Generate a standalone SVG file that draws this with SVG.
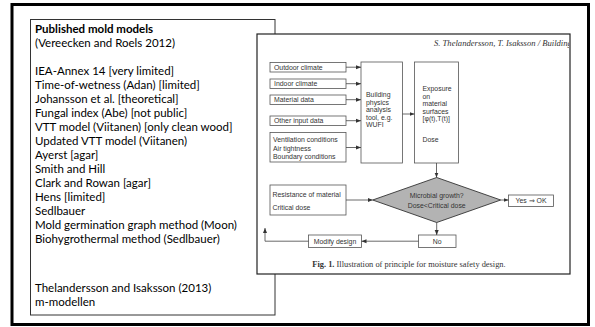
<svg xmlns="http://www.w3.org/2000/svg" width="595" height="327" viewBox="0 0 595 327">
<style>
.lt{font-family:Lato,"Open Sans","Liberation Sans",sans-serif;font-size:11.5px;fill:#000}
.ltb{font-family:Lato,"Open Sans","Liberation Sans",sans-serif;font-size:11.5px;font-weight:bold;fill:#000}
.box{fill:#fff;stroke:#555;stroke-width:0.8}
.ft{font-family:"Liberation Sans",Arial,sans-serif;font-size:6.9px;fill:#333}
.cn{fill:none;stroke:#444;stroke-width:0.8}
.cap{font-family:"Liberation Serif","Times New Roman",serif;font-size:8.4px;fill:#333}
</style>
<defs>
<marker id="ah" markerWidth="6" markerHeight="6" refX="5" refY="3" orient="auto" markerUnits="userSpaceOnUse">
<path d="M0,1 L5,3 L0,5 Z" fill="#333"/>
</marker>
<clipPath id="imgclip"><rect x="257" y="34" width="312" height="240"/></clipPath>
</defs>
<rect width="595" height="327" fill="#fff"/>
<rect x="12" y="4.5" width="576.5" height="320" fill="none" stroke="#000" stroke-width="3"/>

<g id="textbox">
<rect x="30.5" y="19.5" width="244.5" height="295.5" fill="#fff" stroke="#333" stroke-width="1"/>
<text class="ltb" x="35" y="33">Published mold models</text>
<text class="lt" x="35" y="47">(Vereecken and Roels 2012)</text>
<text class="lt" x="35" y="75">IEA-Annex 14 [very limited]</text>
<text class="lt" x="35" y="89">Time-of-wetness (Adan) [limited]</text>
<text class="lt" x="35" y="103">Johansson et al. [theoretical]</text>
<text class="lt" x="35" y="117">Fungal index (Abe) [not public]</text>
<text class="lt" x="35" y="131">VTT model (Viitanen) [only clean wood]</text>
<text class="lt" x="35" y="145">Updated VTT model (Viitanen)</text>
<text class="lt" x="35" y="159">Ayerst [agar]</text>
<text class="lt" x="35" y="173">Smith and Hill</text>
<text class="lt" x="35" y="187">Clark and Rowan [agar]</text>
<text class="lt" x="35" y="201">Hens [limited]</text>
<text class="lt" x="35" y="215">Sedlbauer</text>
<text class="lt" x="35" y="229">Mold germination graph method (Moon)</text>
<text class="lt" x="35" y="243">Biohygrothermal method (Sedlbauer)</text>
<text class="lt" x="35" y="292">Thelandersson and Isaksson (2013)</text>
<text class="lt" x="35" y="306">m-modellen</text>
</g>

<g id="figure">
<rect x="257" y="34" width="313" height="240" fill="#fff" stroke="#222" stroke-width="1.2"/>
<g clip-path="url(#imgclip)">
<text x="434" y="46" font-family="Liberation Serif,serif" font-style="italic" font-size="8.6" fill="#333">S. Thelandersson, T. Isaksson / Building</text>
</g>
<text class="cap" x="409" y="267" text-anchor="middle"><tspan font-weight="bold">Fig. 1.</tspan> Illustration of principle for moisture safety design.</text>
</g>

<g id="n-outdoor"><rect class="box" x="270" y="62.5" width="76" height="9.5"/><text class="ft" x="274" y="69.7">Outdoor climate</text></g>
<g id="n-indoor"><rect class="box" x="270" y="79" width="76" height="9.5"/><text class="ft" x="274" y="86.2">Indoor climate</text></g>
<g id="n-material"><rect class="box" x="270" y="95" width="76" height="9.5"/><text class="ft" x="274" y="102.2">Material data</text></g>
<g id="n-other"><rect class="box" x="270" y="116" width="76" height="9.5"/><text class="ft" x="274" y="123.2">Other input data</text></g>
<g id="n-vent"><rect class="box" x="270" y="132.5" width="76" height="29.5"/>
<text class="ft" x="273" y="142">Ventilation conditions</text><text class="ft" x="273" y="150.5">Air tightness</text><text class="ft" x="273" y="159">Boundary conditions</text></g>
<g id="n-bpa"><rect class="box" x="361" y="62" width="41.5" height="101"/>
<text class="ft" x="366" y="97">Building</text><text class="ft" x="366" y="104.5">physics</text><text class="ft" x="366" y="112">analysis</text><text class="ft" x="366" y="119.5">tool, e.g.</text><text class="ft" x="366" y="127">WUFI</text></g>
<g id="n-exposure"><rect class="box" x="414.5" y="62" width="44" height="101"/>
<text class="ft" x="422.5" y="91">Exposure</text><text class="ft" x="422.5" y="98.5">on</text><text class="ft" x="422.5" y="106">material</text><text class="ft" x="422.5" y="113.5">surfaces</text><text class="ft" x="422.5" y="121">[φ(t),T(t)]</text><text class="ft" x="422.5" y="142">Dose</text></g>
<g id="n-resist"><rect class="box" x="270" y="185" width="76" height="30"/>
<text class="ft" x="272.5" y="196.5">Resistance of material</text><text class="ft" x="272.5" y="209.5">Critical dose</text></g>
<g id="n-diamond"><path d="M436.7,177.5 L500.7,200 L436.7,222.5 L372.7,200 Z" fill="#b3b3b3" stroke="#333" stroke-width="0.9"/>
<text class="ft" x="436.7" y="198" text-anchor="middle">Microbial growth?</text><text class="ft" x="436.7" y="207.5" text-anchor="middle">Dose&lt;Critical dose</text></g>
<g id="n-yes"><rect class="box" x="508.5" y="195" width="45" height="11.5"/><text class="ft" x="531" y="203" text-anchor="middle">Yes ⇒ OK</text></g>
<g id="n-no"><rect class="box" x="418.5" y="235" width="37.5" height="12.5"/><text class="ft" x="437.2" y="243.5" text-anchor="middle">No</text></g>
<g id="n-modify"><rect class="box" x="308.5" y="235" width="53" height="12.5"/><text class="ft" x="335" y="243.5" text-anchor="middle">Modify design</text></g>

<g id="connectors">
<line class="cn" x1="346" y1="67.2" x2="361" y2="67.2" marker-end="url(#ah)"/>
<line class="cn" x1="346" y1="83.7" x2="361" y2="83.7" marker-end="url(#ah)"/>
<line class="cn" x1="346" y1="99.7" x2="361" y2="99.7" marker-end="url(#ah)"/>
<line class="cn" x1="346" y1="120.7" x2="361" y2="120.7" marker-end="url(#ah)"/>
<line class="cn" x1="346" y1="147.5" x2="361" y2="147.5" marker-end="url(#ah)"/>
<line class="cn" x1="402.5" y1="114" x2="414.5" y2="114" marker-end="url(#ah)"/>
<line class="cn" x1="436.5" y1="163" x2="436.5" y2="177.5" marker-end="url(#ah)"/>
<line class="cn" x1="346" y1="200" x2="372.7" y2="200" marker-end="url(#ah)"/>
<line class="cn" x1="500.7" y1="200" x2="508.5" y2="200" marker-end="url(#ah)"/>
<line class="cn" x1="436.7" y1="222.5" x2="436.7" y2="235" marker-end="url(#ah)"/>
<line class="cn" x1="418.5" y1="241.2" x2="361.5" y2="241.2" marker-end="url(#ah)"/>
<polyline class="cn" points="308.5,241.2 265,241.2 265,228" marker-end="url(#ah)"/>
</g>
</svg>
